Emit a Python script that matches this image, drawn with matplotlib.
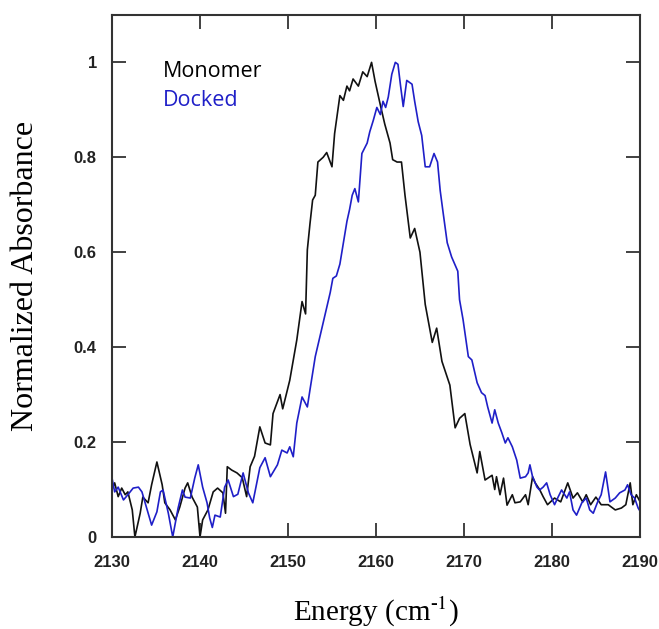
import numpy as np
import matplotlib
matplotlib.use("Agg")
import matplotlib.pyplot as plt

# Monomer spectrum (energy in cm^-1, normalized absorbance)
mono_x = [2130.0, 2130.3, 2130.7, 2131.1, 2131.5, 2131.8, 2132.3, 2132.6, 2133.2, 2133.5,
          2134.1, 2134.5, 2135.1, 2135.7, 2136.0, 2136.6, 2137.2, 2137.7, 2138.3, 2138.6,
          2139.1, 2139.7, 2140.0, 2140.3, 2140.9, 2141.5, 2142.0, 2142.6, 2142.9, 2143.1,
          2143.6, 2144.2, 2144.8, 2145.3, 2145.7, 2146.2, 2146.8, 2147.4, 2148.0, 2148.3,
          2149.1, 2149.4, 2150.2, 2151.0, 2151.6, 2152.0, 2152.2, 2152.5, 2152.8, 2153.1,
          2153.4, 2154.0, 2154.4, 2155.0, 2155.3, 2155.9, 2156.3, 2156.7, 2157.0, 2157.4,
          2158.0, 2158.5, 2159.0, 2159.5, 2159.9, 2160.5, 2161.0, 2161.6, 2161.9, 2162.4,
          2162.9, 2163.3, 2163.9, 2164.4, 2165.0, 2165.6, 2166.4, 2166.9, 2167.5, 2168.4,
          2169.0, 2169.5, 2170.1, 2170.7, 2171.5, 2171.8, 2172.4, 2173.2, 2173.5, 2173.7,
          2174.1, 2174.5, 2174.9, 2175.5, 2175.8, 2176.4, 2177.0, 2177.3, 2177.8, 2178.1,
          2178.6, 2179.0, 2179.5, 2180.3, 2181.0, 2181.8, 2182.4, 2182.9, 2183.5, 2183.9,
          2184.4, 2185.0, 2185.6, 2186.4, 2187.2, 2187.9, 2188.4, 2188.9, 2189.2, 2189.6,
          2190.0]
mono_y = [0.100, 0.114, 0.085, 0.103, 0.089, 0.095, 0.057, 0.000, 0.050, 0.084,
          0.072, 0.110, 0.158, 0.110, 0.072, 0.057, 0.036, 0.063, 0.103, 0.114,
          0.084, 0.063, 0.000, 0.036, 0.057, 0.095, 0.103, 0.093, 0.050, 0.148,
          0.141, 0.135, 0.125, 0.085, 0.148, 0.170, 0.232, 0.198, 0.194, 0.260,
          0.300, 0.270, 0.330, 0.415, 0.496, 0.470, 0.605, 0.660, 0.710, 0.720,
          0.790, 0.800, 0.810, 0.780, 0.850, 0.930, 0.920, 0.950, 0.940, 0.965,
          0.950, 0.980, 0.970, 1.000, 0.960, 0.910, 0.870, 0.830, 0.795, 0.790,
          0.790, 0.720, 0.630, 0.650, 0.600, 0.490, 0.410, 0.440, 0.370, 0.320,
          0.230, 0.250, 0.260, 0.195, 0.135, 0.180, 0.120, 0.130, 0.100, 0.127,
          0.089, 0.124, 0.067, 0.089, 0.072, 0.074, 0.089, 0.068, 0.127, 0.114,
          0.100, 0.085, 0.068, 0.082, 0.074, 0.114, 0.082, 0.093, 0.074, 0.089,
          0.068, 0.084, 0.068, 0.068, 0.057, 0.061, 0.068, 0.114, 0.068, 0.089,
          0.075]

# Docked spectrum
dock_x = [2130.0, 2130.3, 2130.7, 2131.3, 2131.8, 2132.4, 2133.0, 2133.4, 2134.0, 2134.5,
          2135.1, 2135.5, 2135.8, 2136.4, 2136.9, 2137.5, 2138.0, 2138.3, 2138.9, 2139.4,
          2139.8, 2140.3, 2140.8, 2141.1, 2141.4, 2141.7, 2142.3, 2142.8, 2143.2, 2143.8,
          2144.3, 2144.9, 2145.5, 2146.0, 2146.8, 2147.4, 2148.0, 2148.8, 2149.3, 2149.9,
          2150.2, 2150.6, 2151.0, 2151.6, 2152.2, 2152.5, 2153.1, 2153.6, 2154.4, 2154.8,
          2155.1, 2155.5, 2155.9, 2156.7, 2157.0, 2157.3, 2157.6, 2158.0, 2158.4, 2159.0,
          2159.3, 2159.7, 2160.1, 2160.5, 2160.8, 2161.1, 2161.4, 2161.8, 2162.2, 2162.5,
          2162.8, 2163.1, 2163.5, 2164.1, 2164.4, 2164.8, 2165.2, 2165.6, 2166.1, 2166.6,
          2167.0, 2167.3, 2167.6, 2168.1, 2168.6, 2169.3, 2169.5, 2169.9, 2170.5, 2170.9,
          2171.5, 2172.0, 2172.4, 2172.7, 2173.2, 2173.5, 2173.9, 2174.3, 2174.7, 2175.0,
          2175.5, 2176.0, 2176.4, 2177.0, 2177.3, 2177.5, 2177.8, 2178.3, 2178.6, 2179.0,
          2179.4, 2179.8, 2180.3, 2180.7, 2181.1, 2181.7, 2182.0, 2182.4, 2182.8, 2183.4,
          2183.9, 2184.3, 2184.7, 2185.2, 2185.6, 2186.1, 2186.6, 2187.2, 2187.7, 2188.3,
          2188.6, 2189.0, 2189.4, 2189.8, 2190.0]
dock_y = [0.124, 0.095, 0.105, 0.078, 0.089, 0.103, 0.105, 0.095, 0.057, 0.025,
          0.053, 0.095, 0.099, 0.050, 0.000, 0.060, 0.099, 0.084, 0.082, 0.124,
          0.152, 0.105, 0.072, 0.040, 0.020, 0.046, 0.042, 0.105, 0.120, 0.085,
          0.090, 0.135, 0.093, 0.072, 0.146, 0.167, 0.127, 0.152, 0.183, 0.177,
          0.190, 0.169, 0.240, 0.295, 0.274, 0.310, 0.380, 0.420, 0.485, 0.515,
          0.545, 0.550, 0.575, 0.665, 0.690, 0.720, 0.734, 0.706, 0.808, 0.830,
          0.854, 0.878, 0.905, 0.890, 0.918, 0.905, 0.927, 0.975, 1.000, 0.996,
          0.950, 0.907, 0.962, 0.954, 0.918, 0.875, 0.846, 0.780, 0.780, 0.808,
          0.790, 0.730, 0.688, 0.620, 0.590, 0.560, 0.500, 0.458, 0.380, 0.373,
          0.325, 0.304, 0.298, 0.274, 0.240, 0.268, 0.240, 0.220, 0.198, 0.209,
          0.190, 0.162, 0.124, 0.127, 0.135, 0.152, 0.127, 0.105, 0.099, 0.105,
          0.114, 0.089, 0.068, 0.084, 0.099, 0.082, 0.095, 0.057, 0.046, 0.072,
          0.082, 0.057, 0.050, 0.074, 0.089, 0.137, 0.074, 0.082, 0.093, 0.099,
          0.110, 0.089, 0.082, 0.061, 0.055]

x_ticks = [2130, 2140, 2150, 2160, 2170, 2180, 2190]
y_ticks = [0, 0.2, 0.4, 0.6, 0.8, 1]
y_tick_labels = ["0", "0.2", "0.4", "0.6", "0.8", "1"]

plt.rcParams["mathtext.fontset"] = "stix"

fig = plt.figure(figsize=(6.59, 6.29), dpi=100)
ax = fig.add_axes([0.170, 0.1463, 0.801, 0.830])

ax.plot(mono_x, mono_y, color="#111111", lw=1.2)
ax.plot(dock_x, dock_y, color="#1f1fc8", lw=1.2)

ax.set_xlim(2130, 2190)
ax.set_ylim(0, 1.1)
ax.set_xticks(x_ticks)
ax.set_yticks(y_ticks)
ax.set_yticklabels(y_tick_labels)

for s in ax.spines.values():
    s.set_linewidth(1.5)
    s.set_color("#333333")

ax.tick_params(direction="in", length=10, width=1.3, color="#333333",
               top=True, right=True, labelsize=12)
ax.tick_params(axis="x", pad=13)
ax.tick_params(axis="y", pad=11)
for lab in ax.get_xticklabels() + ax.get_yticklabels():
    lab.set_fontweight("bold")
    lab.set_family("Liberation Sans")
    lab.set_color("#222222")

ax.set_xlabel("Energy (cm$^{\\mathregular{\u2010}1}$)", family="Liberation Serif",
              fontsize=21, labelpad=18)
ax.set_ylabel("Normalized Absorbance", family="Liberation Serif",
              fontsize=23, labelpad=24)

ax.text(0.097, 0.891, "Monomer", transform=ax.transAxes, color="black",
        fontsize=15.5, family="Open Sans", va="center", ha="left")
ax.text(0.097, 0.837, "Docked", transform=ax.transAxes, color="#1f1fc8",
        fontsize=15.5, family="Open Sans", va="center", ha="left")

fig.savefig("out.png", dpi=100)
